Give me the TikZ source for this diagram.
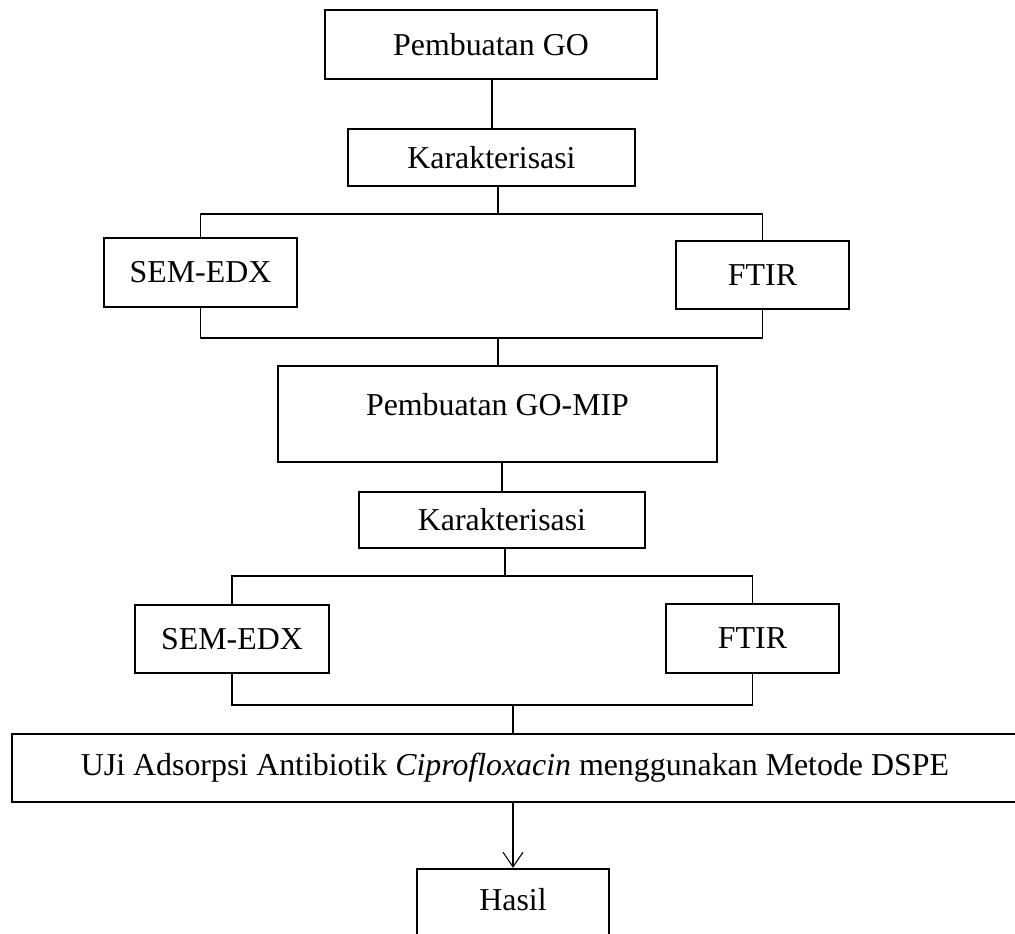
\documentclass[tikz,border=0pt]{standalone}
\usepackage{fontspec}
\setmainfont{Liberation Serif}
\usetikzlibrary{arrows.meta}
\tikzset{
  box/.style={draw, line width=1.8pt, inner sep=0pt, align=center,
    font=\fontsize{23.9}{28}\selectfont},
  conn/.style={draw, line width=0.8pt}
}
\begin{document}
\begin{tikzpicture}[x=0.75pt, y=-0.75pt]
\useasboundingbox (0,0) rectangle (1015,933);
% nodes
\node[box, minimum width=249pt, minimum height=51.75pt] (go) at (491,44.5) {Pembuatan GO};
\node[box, minimum width=215.25pt, minimum height=42.75pt] (k1) at (491.5,157.5) {Karakterisasi};
\node[box, minimum width=144.75pt, minimum height=51.75pt] (sem1) at (200.5,272.5) {SEM-EDX};
\node[box, minimum width=129.75pt, minimum height=51pt] (ftir1) at (762.5,275) {FTIR};
\node[box, minimum width=329.25pt, minimum height=72pt, text depth=15pt] (gomip) at (497.5,414) {Pembuatan GO-MIP};
\node[box, minimum width=214.5pt, minimum height=42pt] (k2) at (502,520) {Karakterisasi};
\node[box, minimum width=145.5pt, minimum height=51pt] (sem2) at (232,639) {SEM-EDX};
\node[box, minimum width=129.75pt, minimum height=51.75pt] (ftir2) at (752.5,638.5) {FTIR};
\node[box, minimum width=754.5pt, minimum height=51pt] (uji) at (515,768) {UJi Adsorpsi Antibiotik \textit{Ciprofloxacin} menggunakan Metode DSPE};
\node[box, minimum width=144pt, minimum height=60pt, text depth=15pt] (hasil) at (513,909) {Hasil};
% connectors
\coordinate (x1) at (492,0);
\draw[conn] (go.south -| x1) -- (k1.north -| x1);
\coordinate (bus1) at (498,214);
\draw[conn] (k1.south -| bus1) -- (bus1);
\draw[conn] (sem1.north) |- (bus1) -| (ftir1.north);
\coordinate (bus2) at (498,338);
\draw[conn] (sem1.south) |- (bus2) -| (ftir1.south);
\draw[conn] (bus2) -- (gomip.north -| bus2);
\coordinate (x2) at (502,0);
\draw[conn] (gomip.south -| x2) -- (k2.north -| x2);
\coordinate (bus3) at (505,576);
\draw[conn] (k2.south -| bus3) -- (bus3);
\draw[conn] (sem2.north) |- (bus3) -| (ftir2.north);
\coordinate (bus4) at (513,705);
\draw[conn] (sem2.south) |- (bus4) -| (ftir2.south);
\draw[conn] (bus4) -- (uji.north -| bus4);
\draw[conn, -{Straight Barb[length=11pt, width=15pt]}] (uji.south -| hasil.north) -- (hasil.north);
\end{tikzpicture}
\end{document}
